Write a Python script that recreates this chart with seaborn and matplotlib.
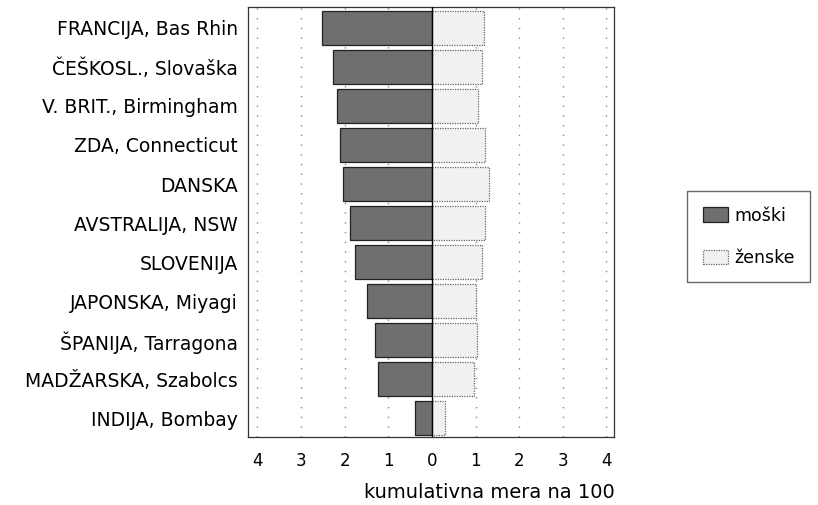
import matplotlib
matplotlib.use("Agg")
import matplotlib.pyplot as plt
import seaborn as sns
import pandas as pd

# data
drzave = ["FRANCIJA, Bas Rhin", "ČEŠKOSL., Slovaška", "V. BRIT., Birmingham",
          "ZDA, Connecticut", "DANSKA", "AVSTRALIJA, NSW", "SLOVENIJA",
          "JAPONSKA, Miyagi", "ŠPANIJA, Tarragona", "MADŽARSKA, Szabolcs",
          "INDIJA, Bombay"]
moski = [2.52, 2.26, 2.17, 2.11, 2.05, 1.88, 1.76, 1.48, 1.31, 1.23, 0.38]
zenske = [1.20, 1.15, 1.05, 1.22, 1.31, 1.22, 1.14, 1.00, 1.03, 0.96, 0.30]
ticks = [-4, -3, -2, -1, 0, 1, 2, 3, 4]

df = pd.DataFrame({"drzava": drzave, "moski": [-v for v in moski], "zenske": zenske})

sns.set_style("white")
plt.rcParams["font.family"] = ["DejaVu Sans"]
plt.rcParams["text.color"] = "black"
plt.rcParams["xtick.color"] = "black"
plt.rcParams["ytick.color"] = "black"
plt.rcParams["axes.labelcolor"] = "black"

fig = plt.figure(figsize=(8.18, 5.05), dpi=100)
ax = fig.add_axes([0.303, 0.135, 0.448, 0.851])

# dotted grid behind bars
for t in ticks:
    if t != 0:
        ax.axvline(t, color="#888888", lw=1, ls=(0, (1, 6)), zorder=0)

sns.barplot(data=df, x="moski", y="drzava", orient="h", color="#6f6f6f",
            edgecolor="#222222", linewidth=0.9, width=0.87, ax=ax,
            label="moški", zorder=2)
sns.barplot(data=df, x="zenske", y="drzava", orient="h", color="#f1f1f1",
            edgecolor="#666666", linewidth=0.9, width=0.87, ax=ax,
            label="ženske", zorder=2, linestyle=(0, (1, 1)))
ax.axvline(0, color="black", lw=1, zorder=3)

ax.set_xlim(-4.22, 4.18)
ax.set_ylim(10.47, -0.53)
ax.set_xticks(ticks)
ax.set_xticklabels([str(abs(t)) for t in ticks], fontsize=12)
ax.tick_params(axis="x", length=0, pad=11)
ax.tick_params(axis="y", length=0, pad=7, labelsize=13.5)
ax.set_ylabel("")
ax.set_xlabel("kumulativna mera na 100", fontsize=14, loc="right", labelpad=9)
for s in ax.spines.values():
    s.set_visible(True)
    s.set_color("#333333")
    s.set_linewidth(0.9)

if ax.legend_:
    ax.legend_.remove()
h, l = ax.get_legend_handles_labels()
fig.legend(h, l, loc="upper left", bbox_to_anchor=(0.840, 0.622),
           fontsize=12.5, frameon=True, fancybox=False, edgecolor="#444444",
           borderpad=0.9, labelspacing=1.4, handlelength=1.45, handleheight=0.9,
           handletextpad=0.35, borderaxespad=0)

plt.savefig("out.png", dpi=100)
